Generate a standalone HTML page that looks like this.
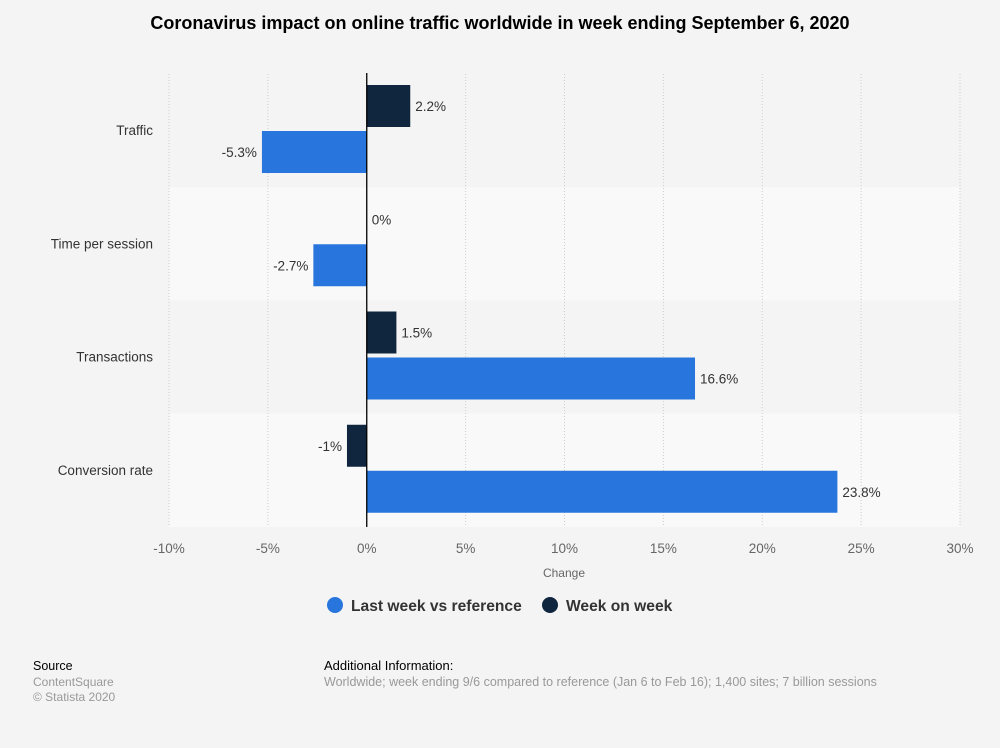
<!DOCTYPE html>
<html><head><meta charset="utf-8"><style>
body{margin:0;width:1000px;height:743px;background:#f4f4f4;font-family:"Liberation Sans",sans-serif;overflow:hidden}
</style></head><body>
<svg width="1000" height="743" xmlns="http://www.w3.org/2000/svg" font-family="Liberation Sans, sans-serif">
<text x="500" y="29" text-anchor="middle" font-size="18" font-weight="bold" fill="#000">Coronavirus impact on online traffic worldwide in week ending September 6, 2020</text>
<g id="plot"></g>
<text x="564" y="577" text-anchor="middle" font-size="12" fill="#666">Change</text>
<g>
<circle cx="335" cy="605" r="8" fill="#2876dd"/>
<text x="351" y="611" font-size="15.6" font-weight="bold" fill="#333">Last week vs reference</text>
<circle cx="550" cy="605" r="8" fill="#10263f"/>
<text x="566" y="611" font-size="15.6" font-weight="bold" fill="#333">Week on week</text>
</g>
<text x="33" y="670" font-size="12.5" fill="#000">Source</text>
<text x="33" y="686" font-size="12" fill="#999">ContentSquare</text>
<text x="33" y="701" font-size="12" fill="#999">© Statista 2020</text>
<text x="324" y="670" font-size="13" fill="#000">Additional Information:</text>
<text x="324" y="686" font-size="12.5" fill="#999">Worldwide; week ending 9/6 compared to reference (Jan 6 to Feb 16); 1,400 sites; 7 billion sessions</text>
</svg>
<script>
const categories=["Traffic","Time per session","Transactions","Conversion rate"];
const lastWeek=[-5.3,-2.7,16.6,23.8];
const weekOnWeek=[2.2,0,1.5,-1];
const lastWeekLabels=["-5.3%","-2.7%","16.6%","23.8%"];
const weekLabels=["2.2%","0%","1.5%","-1%"];
const ticks=[-10,-5,0,5,10,15,20,25,30];
const NS="http://www.w3.org/2000/svg";
const plotG=document.getElementById('plot');
const X0=169,X1=960,TOPY=74,ROWH=113.25;
const xs=v=>X0+(v+10)/40*(X1-X0);
function mk(t,a){const e=document.createElementNS(NS,t);for(const k in a)e.setAttribute(k,a[k]);plotG.appendChild(e);return e;}
categories.forEach((c,i)=>{
 const b=mk('rect',{x:X0,y:TOPY+i*ROWH,width:X1-X0,height:ROWH,fill:i%2?'#f9f9f9':'#f4f4f4'});
 
 
});
ticks.forEach(t=>{
 const l=mk('line',{x1:xs(t),x2:xs(t),y1:TOPY,y2:527,stroke:'#ccc','stroke-dasharray':'1,2'});
 
 
 const tx=mk('text',{x:xs(t),y:553,'text-anchor':'middle','font-size':13.5,fill:'#666'});tx.textContent=t+'%';
 
 
});
categories.forEach((c,i)=>{
 const y=TOPY+i*ROWH;
 const lb=mk('text',{x:153,y:y+61,'text-anchor':'end','font-size':13.5,fill:'#333'});lb.textContent=c;
 
 
 [[weekOnWeek[i],weekLabels[i],'#10263f',11],[lastWeek[i],lastWeekLabels[i],'#2876dd',57]].forEach(([v,s,col,off])=>{
  const a=xs(Math.min(0,v)),w=Math.abs(xs(v)-xs(0));
  const r=mk('rect',{x:a,y:y+off,width:w,height:42,fill:col});
  
  
  const t=mk('text',{x:v<0?xs(v)-5:xs(v)+5,y:y+off+26,'text-anchor':v<0?'end':'start','font-size':13.5,fill:'#333'});t.textContent=s;
  
  
 });
});
const z=mk('line',{x1:xs(0),x2:xs(0),y1:TOPY-1,y2:527,stroke:'#000','stroke-width':1.3});


</script>
</body></html>
